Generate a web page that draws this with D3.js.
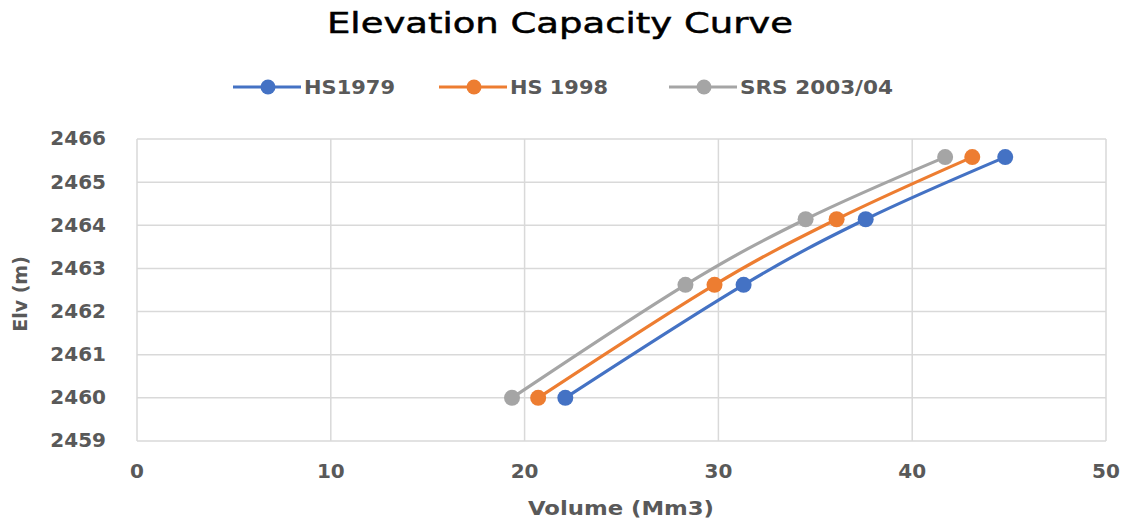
<!DOCTYPE html>
<html><head><meta charset="utf-8">
<script src="https://cdn.jsdelivr.net/npm/d3@7"></script>
<style>body{margin:0;background:#fff}svg{display:block}</style>
</head><body>
<svg id="c" width="1125" height="525"></svg>
<script>
const seriesNames = ["HS1979", "HS 1998", "SRS 2003/04"];
const seriesColors = ["#4472C4", "#ED7D31", "#A5A5A5"];
const elevations = [2460, 2462.62, 2464.14, 2465.58];
const volHS1979 = [22.1, 31.3, 37.6, 44.8];
const volHS1998 = [20.7, 29.8, 36.1, 43.1];
const volSRS2003 = [19.35, 28.3, 34.5, 41.7];
const xTicks = [0, 10, 20, 30, 40, 50];
const yTicks = [2459, 2460, 2461, 2462, 2463, 2464, 2465, 2466];

const seriesVols = [volHS1979, volHS1998, volSRS2003];
const svg = d3.select("#c");
const L = 137, R = 1106, T = 139, B = 441;
const x = d3.scaleLinear().domain([0, 50]).range([L, R]);
const y = d3.scaleLinear().domain([2459, 2466]).range([B, T]);

// gridlines
svg.append("g").selectAll("line").data(yTicks).join("line")
  .attr("x1", L).attr("x2", R).attr("y1", d => y(d)).attr("y2", d => y(d))
  .attr("stroke", "#D9D9D9").attr("stroke-width", 1.5);
svg.append("g").selectAll("line").data(xTicks).join("line")
  .attr("y1", T).attr("y2", B).attr("x1", d => x(d)).attr("x2", d => x(d))
  .attr("stroke", "#D9D9D9").attr("stroke-width", 1.5);

const tickFont = "'DejaVu Sans', Verdana, sans-serif";
// y tick labels
svg.append("g").selectAll("text").data(yTicks).join("text")
  .attr("x", 106).attr("y", d => y(d)).attr("dy", "0.32em")
  .attr("text-anchor", "end").attr("font-family", tickFont).attr("font-weight", "bold")
  .attr("font-size", 20).attr("fill", "#595959").text(d => d);
// x tick labels
svg.append("g").selectAll("text").data(xTicks).join("text")
  .attr("x", d => x(d)).attr("y", 478)
  .attr("text-anchor", "middle").attr("font-family", tickFont).attr("font-weight", "bold")
  .attr("font-size", 20).attr("fill", "#595959").text(d => d);

// axis titles
svg.append("text").attr("transform", "translate(27,294) rotate(-90)")
  .attr("text-anchor", "middle").attr("font-family", tickFont).attr("font-weight", "bold")
  .attr("font-size", 19).attr("fill", "#595959").text("Elv (m)");
svg.append("text").attr("x", 621).attr("y", 515)
  .attr("text-anchor", "middle").attr("font-family", tickFont).attr("font-weight", "bold")
  .attr("font-size", 20).attr("fill", "#595959")
  .attr("textLength", 186).attr("lengthAdjust", "spacingAndGlyphs")
  .text("Volume (Mm3)");

// title
svg.append("text").attr("x", 560).attr("y", 33)
  .attr("text-anchor", "middle").attr("font-family", "'DejaVu Sans', Verdana, sans-serif")
  .attr("font-size", 28).attr("fill", "#000").attr("stroke", "#000").attr("stroke-width", 0.5)
  .attr("textLength", 466).attr("lengthAdjust", "spacingAndGlyphs")
  .text("Elevation Capacity Curve");

// series
const line = d3.line().x(d => x(d[0])).y(d => y(d[1])).curve(d3.curveCardinal.tension(0));
seriesVols.forEach((vols, i) => {
  const pts = vols.map((v, j) => [v, elevations[j]]);
  svg.append("path").datum(pts).attr("d", line).attr("fill", "none")
    .attr("stroke", seriesColors[i]).attr("stroke-width", 3.2);
  svg.append("g").selectAll("circle").data(pts).join("circle")
    .attr("cx", d => x(d[0])).attr("cy", d => y(d[1])).attr("r", 8)
    .attr("fill", seriesColors[i]);
});

// legend
const legendX = [233, 439, 669];
const legendTextLen = [91, 98, 153];
const lg = svg.append("g");
seriesNames.forEach((n, i) => {
  const g = lg.append("g").attr("transform", `translate(${legendX[i]},87)`);
  g.append("line").attr("x1", 0).attr("x2", 68).attr("stroke", seriesColors[i]).attr("stroke-width", 3.2);
  g.append("circle").attr("cx", 35).attr("r", 7.5).attr("fill", seriesColors[i]);
  g.append("text").attr("x", 71).attr("dy", "0.36em").attr("font-family", tickFont)
    .attr("font-weight", "bold").attr("font-size", 20).attr("fill", "#595959")
    .attr("textLength", legendTextLen[i]).attr("lengthAdjust", "spacingAndGlyphs").text(n);
});
</script>
</body></html>
